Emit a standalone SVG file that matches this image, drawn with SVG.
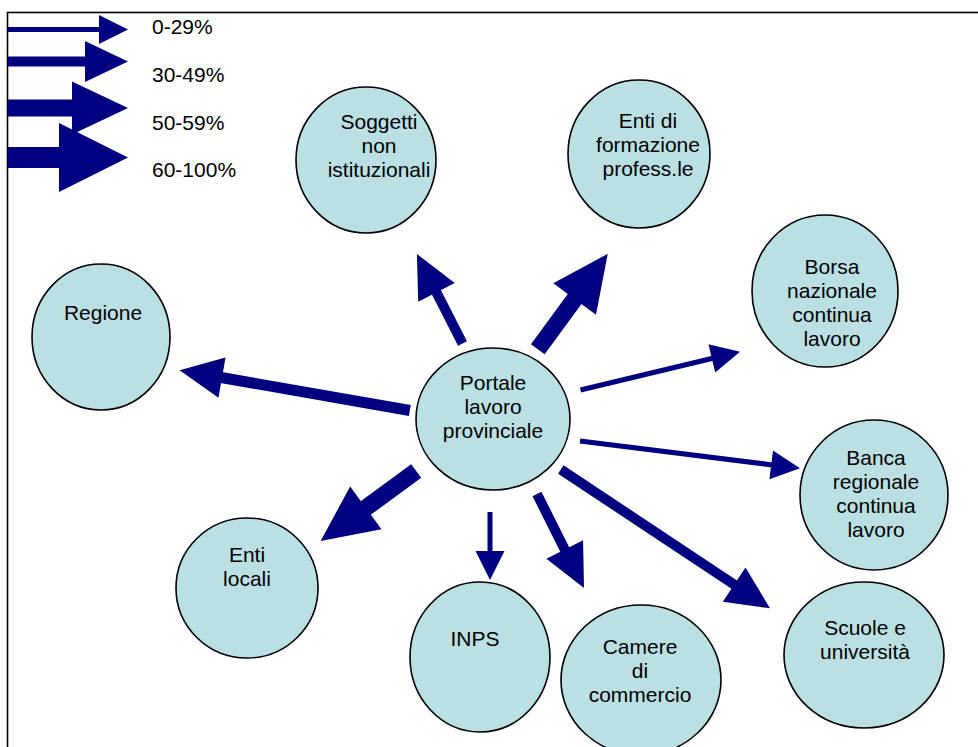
<svg xmlns="http://www.w3.org/2000/svg" width="978" height="747" viewBox="0 0 978 747">
<style>
.n{fill:#BAE0E3;stroke:#000;stroke-width:1.6}
.t{font-family:"Liberation Sans",Arial,sans-serif;font-size:21px;fill:#000;text-anchor:middle}
.lt{font-family:"Liberation Sans",Arial,sans-serif;font-size:21px;fill:#000}
.a{stroke:#000080;fill:none;stroke-linecap:butt}
</style>
<defs>
<marker id="h1" markerUnits="userSpaceOnUse" viewBox="0 -15 29 30" refX="1" refY="0" markerWidth="29" markerHeight="30" orient="auto" overflow="visible"><path d="M0,-14.5 L29,0 L0,14.5Z" fill="#000080"/></marker>
<marker id="h2" markerUnits="userSpaceOnUse" viewBox="0 -21 43 42" refX="1" refY="0" markerWidth="43" markerHeight="42" orient="auto" overflow="visible"><path d="M0,-20.5 L43,0 L0,20.5Z" fill="#000080"/></marker>
<marker id="h3" markerUnits="userSpaceOnUse" viewBox="0 -27 56 54" refX="1" refY="0" markerWidth="56" markerHeight="54" orient="auto" overflow="visible"><path d="M0,-26.5 L56,0 L0,26.5Z" fill="#000080"/></marker>
<marker id="h4" markerUnits="userSpaceOnUse" viewBox="0 -35 69 70" refX="1" refY="0" markerWidth="69" markerHeight="70" orient="auto" overflow="visible"><path d="M0,-34.5 L69,0 L0,34.5Z" fill="#000080"/></marker>
</defs>
<rect x="7.5" y="12.5" width="1000" height="800" fill="#fff" stroke="#000" stroke-width="1.6"/>
<g id="legend">
<line class="a" x1="8" y1="29.5" x2="100" y2="29.5" stroke-width="5" marker-end="url(#h1)"/>
<line class="a" x1="8" y1="61.5" x2="86" y2="61.5" stroke-width="10" marker-end="url(#h2)"/>
<line class="a" x1="8" y1="108" x2="73" y2="108" stroke-width="17" marker-end="url(#h3)"/>
<line class="a" x1="8" y1="157.5" x2="60" y2="157.5" stroke-width="21" marker-end="url(#h4)"/>
<text class="lt" x="152" y="33.5">0-29%</text>
<text class="lt" x="152" y="81.5">30-49%</text>
<text class="lt" x="152" y="130">50-59%</text>
<text class="lt" x="152" y="176.5">60-100%</text>
</g>
<g id="soggetti"><ellipse class="n" cx="366" cy="160" rx="70" ry="73"/><text class="t" x="379" y="129">Soggetti</text><text class="t" x="379" y="153">non</text><text class="t" x="379" y="177">istituzionali</text></g>
<g id="formazione"><ellipse class="n" cx="639" cy="154" rx="71" ry="74"/><text class="t" x="648" y="128">Enti di</text><text class="t" x="648" y="152">formazione</text><text class="t" x="648" y="176">profess.le</text></g>
<g id="borsa"><ellipse class="n" cx="825" cy="291" rx="73" ry="76"/><text class="t" x="832" y="274">Borsa</text><text class="t" x="832" y="298">nazionale</text><text class="t" x="832" y="322">continua</text><text class="t" x="832" y="346">lavoro</text></g>
<g id="regione"><ellipse class="n" cx="101" cy="337" rx="69" ry="73"/><text class="t" x="103" y="320">Regione</text></g>
<g id="portale"><ellipse class="n" cx="493" cy="419" rx="77" ry="71"/><text class="t" x="493" y="390">Portale</text><text class="t" x="493" y="414">lavoro</text><text class="t" x="493" y="438">provinciale</text></g>
<g id="banca"><ellipse class="n" cx="874" cy="495" rx="74" ry="75"/><text class="t" x="876" y="465">Banca</text><text class="t" x="876" y="489">regionale</text><text class="t" x="876" y="513">continua</text><text class="t" x="876" y="537">lavoro</text></g>
<g id="entilocali"><ellipse class="n" cx="247" cy="588" rx="71" ry="70"/><text class="t" x="247" y="562">Enti</text><text class="t" x="247" y="586">locali</text></g>
<g id="inps"><ellipse class="n" cx="480" cy="657" rx="70" ry="75"/><text class="t" x="475" y="646">INPS</text></g>
<g id="camere"><ellipse class="n" cx="641" cy="680" rx="80" ry="75"/><text class="t" x="640" y="654">Camere</text><text class="t" x="640" y="678">di</text><text class="t" x="640" y="702">commercio</text></g>
<g id="scuole"><ellipse class="n" cx="864" cy="655" rx="80" ry="73"/><text class="t" x="865" y="635">Scuole e</text><text class="t" x="865" y="659">università</text></g>
<g id="connectors">
<line class="a" x1="462.5" y1="343.5" x2="436" y2="291.5" stroke-width="10" marker-end="url(#h2)"/>
<line class="a" x1="537.8" y1="349.2" x2="575.2" y2="298.2" stroke-width="17" marker-end="url(#h3)"/>
<line class="a" x1="409.8" y1="410.5" x2="221" y2="377.5" stroke-width="11" marker-end="url(#h2)"/>
<line class="a" x1="416.2" y1="471" x2="365" y2="508.5" stroke-width="17" marker-end="url(#h3)"/>
<line class="a" x1="490" y1="512" x2="490" y2="552" stroke-width="5" marker-end="url(#h1)"/>
<line class="a" x1="537" y1="494" x2="565.2" y2="550.4" stroke-width="10" marker-end="url(#h2)"/>
<line class="a" x1="580.5" y1="390" x2="712.8" y2="358.2" stroke-width="5" marker-end="url(#h1)"/>
<line class="a" x1="580" y1="441" x2="772.2" y2="464.9" stroke-width="5" marker-end="url(#h1)"/>
<line class="a" x1="560.8" y1="469.5" x2="735" y2="585.1" stroke-width="10" marker-end="url(#h2)"/>
</g>
</svg>
